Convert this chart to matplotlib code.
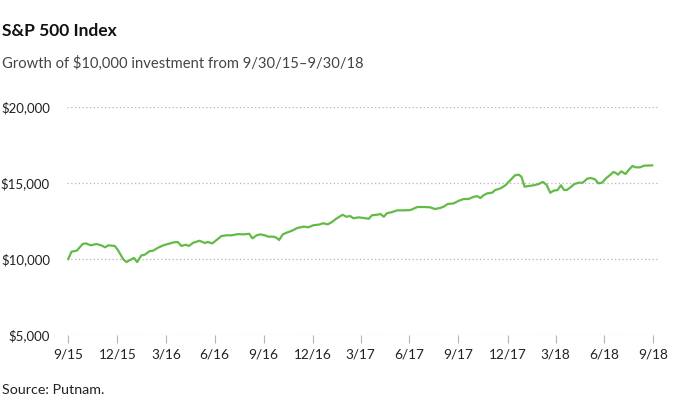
import matplotlib
matplotlib.use("Agg")
import matplotlib.pyplot as plt
import pandas as pd

# growth of $10,000
dates = [
    "2015-09-30", "2015-10-06", "2015-10-16", "2015-10-27", "2015-11-02", "2015-11-11",
    "2015-11-22", "2015-12-02", "2015-12-08", "2015-12-14", "2015-12-26", "2016-01-01",
    "2016-01-11", "2016-01-17", "2016-01-31", "2016-02-06", "2016-02-14", "2016-02-20",
    "2016-02-29", "2016-03-07", "2016-03-16", "2016-03-26", "2016-04-04", "2016-04-15",
    "2016-04-22", "2016-04-29", "2016-05-07", "2016-05-13", "2016-05-21", "2016-06-02",
    "2016-06-12", "2016-06-17", "2016-06-26", "2016-07-02", "2016-07-13", "2016-07-22",
    "2016-08-01", "2016-08-13", "2016-08-23", "2016-09-03", "2016-09-09", "2016-09-17",
    "2016-09-24", "2016-10-02", "2016-10-09", "2016-10-18", "2016-10-24", "2016-10-29",
    "2016-11-05", "2016-11-12", "2016-11-22", "2016-12-02", "2016-12-14", "2016-12-23",
    "2017-01-01", "2017-01-11", "2017-01-20", "2017-01-28", "2017-02-05", "2017-02-13",
    "2017-02-19", "2017-02-25", "2017-03-04", "2017-03-11", "2017-03-17", "2017-03-27",
    "2017-04-05", "2017-04-15", "2017-04-21", "2017-04-30", "2017-05-07", "2017-05-13",
    "2017-05-19", "2017-05-29", "2017-06-07", "2017-06-19", "2017-07-02", "2017-07-08",
    "2017-07-15", "2017-07-27", "2017-08-08", "2017-08-17", "2017-08-27", "2017-09-02",
    "2017-09-10", "2017-09-21", "2017-09-30", "2017-10-10", "2017-10-19", "2017-10-28",
    "2017-11-04", "2017-11-10", "2017-11-16", "2017-11-23", "2017-12-02", "2017-12-08",
    "2017-12-18", "2017-12-27", "2018-01-05", "2018-01-14", "2018-01-21", "2018-01-26",
    "2018-02-01", "2018-02-09", "2018-02-18", "2018-02-27", "2018-03-07", "2018-03-14",
    "2018-03-21", "2018-03-27", "2018-04-04", "2018-04-10", "2018-04-16", "2018-04-21",
    "2018-04-28", "2018-05-05", "2018-05-13", "2018-05-21", "2018-05-29", "2018-06-05",
    "2018-06-13", "2018-06-19", "2018-06-26", "2018-07-04", "2018-07-12", "2018-07-17",
    "2018-07-21", "2018-07-26", "2018-08-01", "2018-08-09", "2018-08-15", "2018-08-22",
    "2018-08-28", "2018-09-05", "2018-09-13", "2018-09-28",
]
values = [
    10000, 10480, 10550, 10990, 11030, 10900, 10990, 10880, 10770, 10900, 10860, 10590,
    9980, 9800, 10070, 9800, 10240, 10280, 10510, 10550, 10740, 10900, 10990, 11100,
    11120, 10860, 10940, 10860, 11070, 11200, 11050, 11120, 11030, 11200, 11510, 11560,
    11560, 11640, 11620, 11660, 11360, 11560, 11620, 11560, 11470, 11470, 11400, 11250,
    11620, 11730, 11860, 12040, 12130, 12090, 12220, 12260, 12350, 12280, 12430, 12650,
    12780, 12910, 12780, 12830, 12680, 12740, 12700, 12650, 12880, 12910, 12960, 12780,
    13010, 13090, 13200, 13200, 13220, 13310, 13420, 13420, 13400, 13290, 13360, 13440,
    13620, 13660, 13820, 13950, 13950, 14080, 14140, 14010, 14190, 14320, 14360, 14540,
    14650, 14850, 15180, 15510, 15550, 15410, 14760, 14800, 14850, 14930, 15070, 14890,
    14360, 14490, 14540, 14850, 14540, 14540, 14720, 14930, 15020, 15020, 15280, 15330,
    15240, 14980, 15020, 15330, 15550, 15720, 15680, 15550, 15770, 15590, 15860, 16120,
    16030, 16030, 16140, 16160,
]

tick_dates = ["2015-09-30", "2015-12-31", "2016-03-31", "2016-06-30", "2016-09-30",
              "2016-12-31", "2017-03-31", "2017-06-30", "2017-09-30", "2017-12-31",
              "2018-03-31", "2018-06-30", "2018-09-30"]
tick_labels = ["9/15", "12/15", "3/16", "6/16", "9/16", "12/16", "3/17",
               "6/17", "9/17", "12/17", "3/18", "6/18", "9/18"]
y_ticks = [5000, 10000, 15000, 20000]

plt.rcParams['font.family'] = ['Lato', 'DejaVu Sans']

x = pd.to_datetime(dates)
xt = pd.to_datetime(tick_dates)

fig = plt.figure(figsize=(6.96, 4.17), dpi=100)
ax = fig.add_axes([0.0958, 0.1966, 0.852, 0.5468])

ax.plot(x, values, color="#62bb46", linewidth=1.6, solid_joinstyle="round")

ax.set_ylim(5000, 20000)
ax.set_xlim(pd.Timestamp("2015-09-27"), pd.Timestamp("2018-10-12"))

ax.set_yticks(y_ticks)
ax.set_yticklabels([f"${v:,}" for v in y_ticks])
ax.set_xticks(xt)
ax.set_xticklabels(tick_labels)

for v in y_ticks:
    ax.axhline(v, color="#b5b5b5", linewidth=0.9, linestyle=(0, (1, 2)), zorder=0)

for s in ax.spines.values():
    s.set_visible(False)

ax.tick_params(axis="y", length=0, pad=12, labelsize=9.5, labelcolor="#222222")
ax.tick_params(axis="x", length=6, width=0.8, color="#b5b5b5", pad=4,
               labelsize=9.8, labelcolor="#222222")

fig.text(0.003, 0.913, "S&P 500 Index", fontsize=12.5, fontweight="bold", color="#111111")
fig.text(0.003, 0.837, "Growth of $10,000 investment from 9/30/15\u20139/30/18",
         fontsize=10.6, color="#444444")
fig.text(0.003, 0.055, "Source: Putnam.", fontsize=10.3, color="#222222")

fig.savefig("out.png", dpi=100)
